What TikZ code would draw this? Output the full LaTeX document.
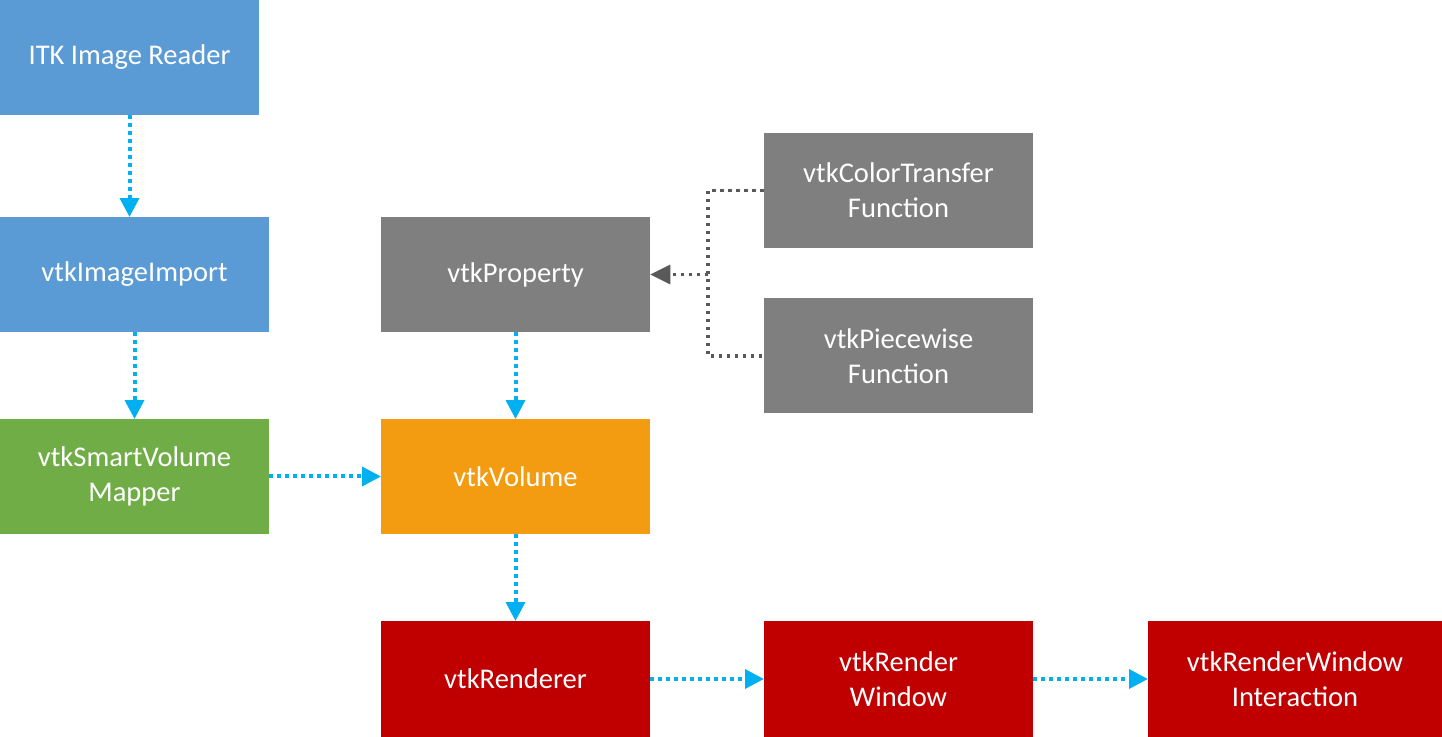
\documentclass[tikz,border=0pt]{standalone}
\usepackage{fontspec}
\setmainfont{Carlito}
\usetikzlibrary{arrows.meta}
\definecolor{cblue}{HTML}{5B9BD5}
\definecolor{cgreen}{HTML}{70AD47}
\definecolor{cgray}{HTML}{7F7F7F}
\definecolor{corange}{HTML}{F39C12}
\definecolor{cred}{HTML}{C00000}
\definecolor{carrow}{HTML}{00B0F0}
\definecolor{cdark}{HTML}{595959}
\tikzset{
  box/.style={rectangle, inner sep=0pt, text=white, align=center,
    minimum width=201.75pt, minimum height=86.25pt,
    font=\fontsize{21.4pt}{26.2pt}\selectfont,
    execute at begin node={\vspace*{4pt}}},
  flow/.style={draw=carrow, line width=3pt, dash pattern=on 3pt off 3pt,
    -{Triangle[length=14pt,width=15pt,fill=carrow,line width=0pt]}},
  gflow/.style={draw=cdark, line width=2.5pt, dash pattern=on 2.5pt off 3.5pt},
  garrow/.style={gflow, -{Triangle[length=15pt,width=15pt,fill=cdark,line width=0pt]}}
}
\begin{document}
\begin{tikzpicture}[x=0.75pt,y=-0.75pt]
\useasboundingbox (0,0) rectangle (1442,737);
\node[box, fill=cblue, minimum width=194.25pt] (itk) at (129.5,57.5) {ITK Image Reader};
\node[box, fill=cblue] (imp) at (134.5,274.5) {vtkImageImport};
\node[box, fill=cgreen] (map) at (134.5,476.5) {vtkSmartVolume\\Mapper};
\node[box, fill=cgray] (prop) at (515.5,274.5) {vtkProperty};
\node[box, fill=corange] (vol) at (515.5,476.5) {vtkVolume};
\node[box, fill=cred, minimum height=87pt] (ren) at (515.5,679) {vtkRenderer};
\node[box, fill=cgray] (ctf) at (898.5,190.5) {vtkColorTransfer\\Function};
\node[box, fill=cgray] (pwf) at (898.5,356) {vtkPiecewise\\Function};
\node[box, fill=cred, minimum height=87pt] (rw) at (898.5,679) {vtkRender\\Window};
\node[box, fill=cred, minimum height=87pt, minimum width=220.5pt] (rwi) at (1295,679) {vtkRenderWindow\\Interaction};
\draw[flow] (itk.south) -- (itk.south |- imp.north);
\draw[flow] (imp.south) -- (map.north);
\draw[flow] (map.east) -- (vol.west);
\draw[flow] (prop.south) -- (vol.north);
\draw[flow] (vol.south) -- (ren.north);
\draw[flow] (ren.east) -- (rw.west);
\draw[flow] (rw.east) -- (rwi.west);
\coordinate (j) at (708,274.5);
\draw[gflow] (ctf.west) -| (j) |- (pwf.west);
\draw[garrow] (j) -- (prop.east);
\end{tikzpicture}
\end{document}
